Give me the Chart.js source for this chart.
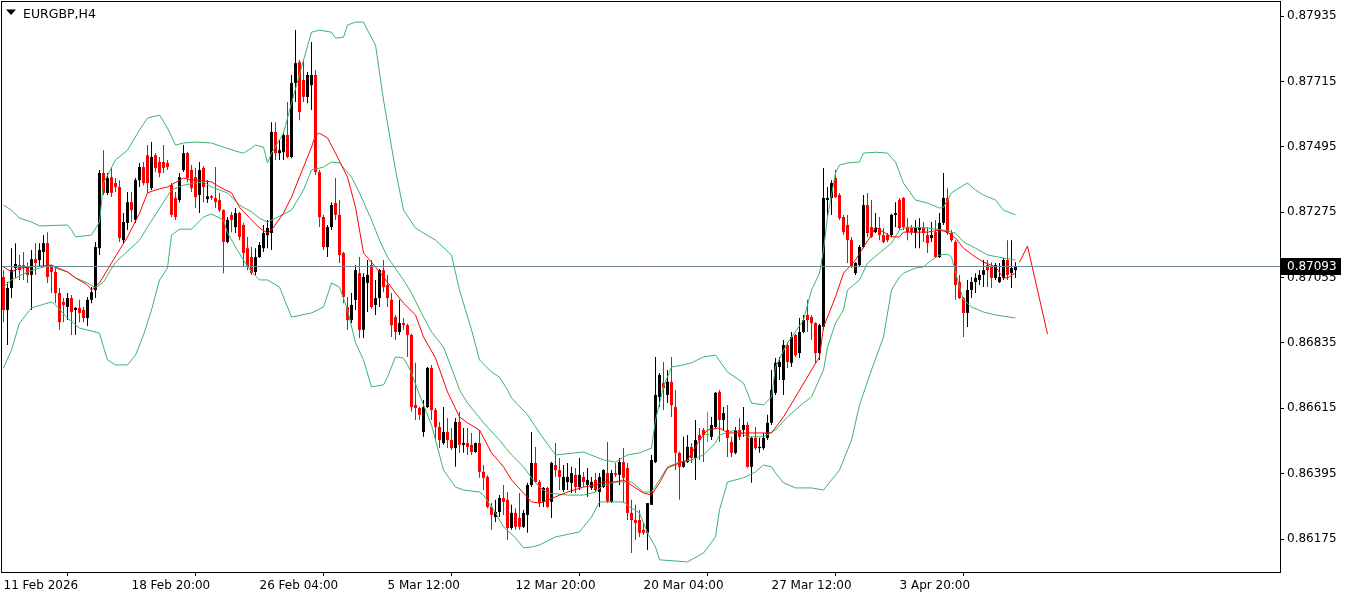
<!DOCTYPE html>
<html>
<head>
<meta charset="utf-8">
<title>EURGBP,H4</title>
<script src="https://cdn.jsdelivr.net/npm/chart.js@4.4.1/dist/chart.umd.min.js"></script>
<style>
  html, body { margin: 0; padding: 0; background: #fff; }
  #wrap { position: relative; width: 1351px; height: 599px; }
</style>
</head>
<body>
<div id="wrap"><canvas id="chart"></canvas></div>
<script>
// EURGBP H4 candles, bar 0 = 11 Feb 2026 12:00
const opens = [
  0.87057,0.86946,0.87020,0.87087,0.87097,0.87097,0.87091,0.87064,0.87117,0.87114,
  0.87141,0.87171,0.87091,0.87074,0.87003,0.86973,0.86956,0.86986,0.86946,0.86953,
  0.86946,0.86919,0.86980,0.87013,0.87154,0.87407,0.87340,0.87393,0.87373,0.87360,
  0.87181,0.87239,0.87309,0.87249,0.87383,0.87427,0.87467,0.87356,0.87467,0.87444,
  0.87444,0.87441,0.87366,0.87323,0.87316,0.87417,0.87474,0.87417,0.87393,0.87333,
  0.87424,0.87319,0.87329,0.87323,0.87316,0.87282,0.87175,0.87266,0.87225,0.87272,
  0.87232,0.87154,0.87124,0.87074,0.87124,0.87154,0.87198,0.87205,0.87545,0.87474,
  0.87477,0.87535,0.87461,0.87710,0.87780,0.87720,0.87663,0.87703,0.87737,0.87410,
  0.87259,0.87158,0.87225,0.87306,0.87266,0.87138,0.86956,0.86912,0.86980,0.87070,
  0.86879,0.87037,0.87097,0.86963,0.86986,0.87080,0.87030,0.86980,0.86922,0.86872,
  0.86902,0.86895,0.86862,0.86626,0.86616,0.86535,0.86619,0.86751,0.86609,0.86552,
  0.86498,0.86535,0.86508,0.86481,0.86569,0.86492,0.86498,0.86492,0.86468,0.86498,
  0.86401,0.86384,0.86283,0.86249,0.86266,0.86313,0.86307,0.86212,0.86263,0.86246,
  0.86216,0.86256,0.86357,0.86431,0.86367,0.86300,0.86347,0.86300,0.86424,0.86407,
  0.86340,0.86367,0.86364,0.86391,0.86350,0.86384,0.86357,0.86347,0.86374,0.86333,
  0.86350,0.86397,0.86300,0.86397,0.86391,0.86434,0.86414,0.86263,0.86239,0.86239,
  0.86206,0.86196,0.86290,0.86434,0.86653,0.86700,0.86660,0.86704,0.86619,0.86465,
  0.86418,0.86434,0.86485,0.86448,0.86525,0.86542,0.86525,0.86519,0.86552,0.86670,
  0.86576,0.86542,0.86502,0.86465,0.86542,0.86542,0.86559,0.86418,0.86515,0.86481,
  0.86481,0.86515,0.86566,0.86667,0.86754,0.86710,0.86828,0.86768,0.86862,0.86801,
  0.86872,0.86929,0.86922,0.86902,0.86801,0.86889,0.87316,0.87323,0.87390,0.87333,
  0.87259,0.87232,0.87181,0.87070,0.87097,0.87158,0.87299,0.87225,0.87208,0.87222,
  0.87198,0.87198,0.87198,0.87266,0.87316,0.87323,0.87225,0.87222,0.87205,0.87215,
  0.87225,0.87198,0.87188,0.87208,0.87124,0.87239,0.87323,0.87205,0.87175,0.87040,
  0.86986,0.86936,0.87013,0.87040,0.87047,0.87064,0.87097,0.87091,0.87054,0.87040,
  0.87054,0.87114,0.87070,0.87080
];
const highs = [
  0.87080,0.87040,0.87154,0.87171,0.87131,0.87141,0.87107,0.87148,0.87171,0.87171,
  0.87198,0.87208,0.87097,0.87091,0.87020,0.86986,0.87003,0.86996,0.86956,0.86980,
  0.86956,0.86990,0.87023,0.87175,0.87417,0.87484,0.87407,0.87427,0.87390,0.87383,
  0.87272,0.87343,0.87343,0.87390,0.87441,0.87444,0.87501,0.87511,0.87474,0.87461,
  0.87501,0.87451,0.87373,0.87343,0.87407,0.87501,0.87478,0.87434,0.87424,0.87444,
  0.87430,0.87383,0.87333,0.87427,0.87340,0.87285,0.87259,0.87276,0.87289,0.87276,
  0.87239,0.87192,0.87158,0.87154,0.87175,0.87232,0.87249,0.87578,0.87578,0.87518,
  0.87545,0.87646,0.87737,0.87888,0.87787,0.87787,0.87747,0.87848,0.87753,0.87417,
  0.87266,0.87232,0.87309,0.87390,0.87316,0.87141,0.86990,0.87003,0.87097,0.87124,
  0.87070,0.87114,0.87114,0.87047,0.87085,0.87114,0.87064,0.87003,0.86929,0.86980,
  0.86919,0.86900,0.86866,0.86768,0.86619,0.86643,0.86754,0.86761,0.86616,0.86569,
  0.86619,0.86582,0.86549,0.86582,0.86603,0.86549,0.86549,0.86532,0.86500,0.86542,
  0.86424,0.86390,0.86296,0.86307,0.86323,0.86357,0.86333,0.86290,0.86279,0.86330,
  0.86273,0.86364,0.86535,0.86485,0.86374,0.86350,0.86350,0.86435,0.86498,0.86448,
  0.86424,0.86431,0.86418,0.86414,0.86448,0.86401,0.86414,0.86384,0.86397,0.86397,
  0.86410,0.86502,0.86407,0.86431,0.86448,0.86481,0.86431,0.86307,0.86290,0.86273,
  0.86232,0.86296,0.86458,0.86788,0.86734,0.86771,0.86744,0.86788,0.86677,0.86470,
  0.86519,0.86525,0.86498,0.86576,0.86549,0.86549,0.86603,0.86586,0.86670,0.86677,
  0.86619,0.86626,0.86519,0.86552,0.86582,0.86619,0.86569,0.86519,0.86552,0.86515,
  0.86532,0.86593,0.86744,0.86784,0.86788,0.86845,0.86838,0.86872,0.86866,0.86919,
  0.86929,0.86980,0.86929,0.86905,0.86900,0.87424,0.87360,0.87383,0.87417,0.87340,
  0.87266,0.87266,0.87192,0.87107,0.87165,0.87333,0.87340,0.87316,0.87272,0.87259,
  0.87222,0.87205,0.87270,0.87309,0.87323,0.87326,0.87255,0.87232,0.87249,0.87255,
  0.87242,0.87225,0.87242,0.87249,0.87272,0.87407,0.87356,0.87215,0.87181,0.87064,
  0.86990,0.87047,0.87057,0.87070,0.87080,0.87114,0.87114,0.87107,0.87104,0.87104,
  0.87121,0.87181,0.87181,0.87107
];
const lows = [
  0.86905,0.86828,0.86986,0.87054,0.87047,0.87047,0.87037,0.86946,0.87064,0.87091,
  0.87091,0.87037,0.87003,0.86969,0.86879,0.86905,0.86912,0.86862,0.86862,0.86905,
  0.86905,0.86892,0.86969,0.86986,0.87131,0.87333,0.87333,0.87326,0.87343,0.87175,
  0.87171,0.87215,0.87242,0.87239,0.87360,0.87366,0.87340,0.87350,0.87410,0.87393,
  0.87407,0.87417,0.87259,0.87249,0.87309,0.87410,0.87377,0.87343,0.87289,0.87272,
  0.87309,0.87306,0.87316,0.87289,0.87276,0.87070,0.87171,0.87208,0.87205,0.87181,
  0.87091,0.87080,0.87064,0.87064,0.87121,0.87141,0.87154,0.87148,0.87451,0.87451,
  0.87451,0.87457,0.87457,0.87646,0.87585,0.87646,0.87642,0.87619,0.87400,0.87225,
  0.87148,0.87124,0.87215,0.87249,0.87104,0.86969,0.86879,0.86902,0.86946,0.86852,
  0.86852,0.86939,0.86950,0.86929,0.86956,0.87006,0.86956,0.86855,0.86845,0.86862,
  0.86879,0.86788,0.86603,0.86576,0.86576,0.86519,0.86616,0.86576,0.86508,0.86481,
  0.86492,0.86481,0.86475,0.86418,0.86465,0.86465,0.86458,0.86458,0.86465,0.86381,
  0.86340,0.86279,0.86206,0.86232,0.86249,0.86256,0.86172,0.86206,0.86206,0.86206,
  0.86212,0.86196,0.86350,0.86364,0.86283,0.86283,0.86280,0.86246,0.86384,0.86340,
  0.86333,0.86340,0.86330,0.86330,0.86340,0.86350,0.86317,0.86340,0.86333,0.86283,
  0.86347,0.86296,0.86296,0.86384,0.86357,0.86296,0.86239,0.86128,0.86172,0.86182,
  0.86189,0.86138,0.86290,0.86431,0.86619,0.86609,0.86633,0.86586,0.86407,0.86307,
  0.86415,0.86431,0.86431,0.86374,0.86441,0.86434,0.86502,0.86508,0.86549,0.86502,
  0.86542,0.86451,0.86451,0.86460,0.86508,0.86519,0.86415,0.86364,0.86475,0.86465,
  0.86475,0.86508,0.86559,0.86660,0.86710,0.86660,0.86751,0.86754,0.86788,0.86784,
  0.86868,0.86872,0.86845,0.86768,0.86778,0.86879,0.87259,0.87266,0.87323,0.87249,
  0.87198,0.87104,0.87087,0.87064,0.87091,0.87154,0.87192,0.87188,0.87205,0.87181,
  0.87171,0.87175,0.87192,0.87225,0.87215,0.87215,0.87181,0.87198,0.87154,0.87154,
  0.87175,0.87138,0.87175,0.87121,0.87121,0.87232,0.87198,0.87175,0.86980,0.86983,
  0.86855,0.86889,0.86986,0.87003,0.87030,0.87023,0.87023,0.87020,0.87047,0.87037,
  0.87047,0.87047,0.87020,0.87054
];
const closes = [
  0.86946,0.87020,0.87080,0.87101,0.87080,0.87087,0.87064,0.87117,0.87104,0.87148,
  0.87171,0.87057,0.87074,0.87003,0.86905,0.86963,0.86986,0.86939,0.86953,0.86936,
  0.86919,0.86980,0.87006,0.87158,0.87407,0.87340,0.87390,0.87340,0.87360,0.87188,
  0.87242,0.87309,0.87282,0.87383,0.87427,0.87373,0.87373,0.87461,0.87424,0.87407,
  0.87424,0.87427,0.87266,0.87259,0.87393,0.87474,0.87390,0.87356,0.87326,0.87417,
  0.87360,0.87329,0.87323,0.87309,0.87282,0.87175,0.87249,0.87249,0.87272,0.87192,
  0.87138,0.87091,0.87070,0.87124,0.87165,0.87205,0.87222,0.87545,0.87474,0.87484,
  0.87535,0.87461,0.87710,0.87777,0.87612,0.87663,0.87737,0.87737,0.87410,0.87259,
  0.87158,0.87225,0.87299,0.87266,0.87131,0.86990,0.86912,0.86963,0.87080,0.86879,
  0.87057,0.87064,0.86956,0.86986,0.87080,0.87023,0.86986,0.86895,0.86872,0.86902,
  0.86895,0.86862,0.86619,0.86616,0.86593,0.86619,0.86751,0.86609,0.86552,0.86508,
  0.86535,0.86508,0.86481,0.86569,0.86492,0.86498,0.86485,0.86468,0.86498,0.86401,
  0.86381,0.86283,0.86256,0.86266,0.86313,0.86300,0.86212,0.86263,0.86216,0.86216,
  0.86263,0.86357,0.86431,0.86367,0.86296,0.86347,0.86283,0.86431,0.86407,0.86384,
  0.86384,0.86384,0.86397,0.86350,0.86391,0.86367,0.86374,0.86367,0.86340,0.86384,
  0.86407,0.86300,0.86397,0.86391,0.86434,0.86381,0.86263,0.86239,0.86229,0.86196,
  0.86196,0.86296,0.86441,0.86660,0.86727,0.86683,0.86704,0.86626,0.86465,0.86418,
  0.86434,0.86485,0.86448,0.86508,0.86508,0.86525,0.86525,0.86559,0.86667,0.86576,
  0.86599,0.86515,0.86465,0.86542,0.86519,0.86559,0.86418,0.86515,0.86481,0.86485,
  0.86515,0.86566,0.86677,0.86768,0.86771,0.86828,0.86771,0.86855,0.86794,0.86872,
  0.86912,0.86912,0.86902,0.86801,0.86895,0.87323,0.87323,0.87373,0.87326,0.87255,
  0.87208,0.87181,0.87091,0.87104,0.87158,0.87299,0.87205,0.87192,0.87222,0.87198,
  0.87175,0.87181,0.87266,0.87272,0.87222,0.87225,0.87208,0.87208,0.87222,0.87225,
  0.87205,0.87171,0.87198,0.87124,0.87239,0.87323,0.87205,0.87181,0.87030,0.86986,
  0.86936,0.87013,0.87040,0.87054,0.87064,0.87080,0.87080,0.87054,0.87097,0.87057,
  0.87114,0.87064,0.87087,0.87093
];

// indicator lines: [bar, price]
const upperBand = [
  [0,0.87299],[2,0.87282],[4,0.87255],[7,0.87242],[9,0.87229],[16,0.87232],[17,0.87215],[18,0.87192],
  [22,0.87198],[24,0.87242],[25,0.87373],[28,0.87451],[31,0.87484],[34,0.87552],[36,0.87592],[39,0.87602],
  [41,0.87558],[43,0.87501],[45,0.87508],[48,0.87511],[52,0.87508],[55,0.87494],[59,0.87477],[60,0.87474],
  [62,0.87491],[63,0.87501],[65,0.87494],[66,0.87441],[67,0.87474],[70,0.87541],[72,0.87642],[75,0.87787],
  [77,0.87881],[79,0.87888],[82,0.87881],[83,0.87861],[85,0.87864],[86,0.87905],[88,0.87915],[90,0.87915],
  [91,0.87888],[93,0.87838],[95,0.87653],[98,0.87417],[100,0.87282],[103,0.87222],[105,0.87205],[108,0.87181],
  [112,0.87131],[114,0.87013],[117,0.86879],[119,0.86778],[122,0.86737],[124,0.86720],[126,0.86677],[127,0.86650],
  [131,0.86593],[134,0.86532],[138,0.86458],[143,0.86465],[145,0.86468],[150,0.86441],[153,0.86434],[156,0.86458],
  [159,0.86465],[162,0.86481],[163,0.86576],[165,0.86687],[167,0.86754],[170,0.86761],[172,0.86768],[175,0.86788],
  [178,0.86794],[181,0.86737],[185,0.86700],[187,0.86633],[190,0.86626],[192,0.86653],[193,0.86754],[196,0.86835],
  [200,0.86912],[202,0.87013],[204,0.87070],[205,0.87148],[206,0.87259],[208,0.87407],[209,0.87434],[211,0.87441],
  [214,0.87444],[215,0.87474],[218,0.87477],[221,0.87474],[223,0.87444],[225,0.87373],[228,0.87316],[231,0.87306],
  [234,0.87289],[235,0.87292],[237,0.87340],[240,0.87366],[241,0.87373],[243,0.87350],[245,0.87333],[248,0.87316],
  [250,0.87282],[253,0.87266]
];
const middleBand = [
  [0,0.87023],[2,0.87047],[6,0.87074],[9,0.87087],[12,0.87097],[13,0.87087],[16,0.87074],[18,0.87054],
  [21,0.87037],[23,0.87020],[25,0.87040],[28,0.87107],[30,0.87131],[34,0.87181],[36,0.87225],[40,0.87309],
  [42,0.87350],[45,0.87366],[48,0.87373],[50,0.87377],[52,0.87360],[56,0.87340],[59,0.87299],[62,0.87276],
  [64,0.87255],[66,0.87242],[68,0.87255],[72,0.87282],[75,0.87350],[77,0.87417],[80,0.87427],[82,0.87444],
  [84,0.87441],[87,0.87393],[89,0.87340],[92,0.87249],[94,0.87181],[96,0.87124],[100,0.87047],[102,0.87003],
  [105,0.86922],[107,0.86872],[110,0.86821],[112,0.86751],[114,0.86677],[116,0.86633],[120,0.86566],[124,0.86508],
  [127,0.86458],[130,0.86418],[132,0.86381],[134,0.86350],[136,0.86330],[141,0.86323],[145,0.86323],[148,0.86333],
  [150,0.86357],[153,0.86367],[157,0.86367],[160,0.86333],[162,0.86333],[164,0.86374],[166,0.86418],[169,0.86434],
  [172,0.86441],[175,0.86458],[178,0.86498],[179,0.86525],[183,0.86542],[186,0.86519],[190,0.86519],[193,0.86542],
  [196,0.86586],[200,0.86633],[202,0.86653],[205,0.86744],[206,0.86821],[208,0.86902],[210,0.86946],[211,0.87013],
  [214,0.87047],[216,0.87104],[219,0.87138],[222,0.87171],[224,0.87215],[226,0.87225],[231,0.87222],[235,0.87215],
  [238,0.87205],[240,0.87175],[243,0.87154],[246,0.87131],[250,0.87121],[253,0.87114]
];
const lowerBand = [
  [0,0.86751],[2,0.86811],[4,0.86902],[7,0.86953],[12,0.86973],[13,0.86963],[16,0.86919],[19,0.86885],
  [22,0.86875],[24,0.86868],[25,0.86821],[26,0.86778],[28,0.86761],[31,0.86761],[33,0.86794],[35,0.86862],
  [37,0.86946],[39,0.87047],[41,0.87087],[42,0.87198],[44,0.87218],[47,0.87218],[50,0.87259],[52,0.87269],
  [55,0.87249],[56,0.87205],[58,0.87158],[60,0.87114],[62,0.87074],[64,0.87047],[66,0.87047],[69,0.87023],
  [72,0.86922],[77,0.86936],[80,0.86956],[82,0.87037],[84,0.87023],[86,0.86946],[88,0.86835],[90,0.86778],
  [92,0.86687],[95,0.86694],[96,0.86720],[98,0.86788],[100,0.86784],[101,0.86761],[102,0.86734],[104,0.86660],
  [107,0.86559],[109,0.86458],[110,0.86407],[113,0.86350],[115,0.86340],[119,0.86333],[120,0.86323],[123,0.86263],
  [125,0.86216],[128,0.86179],[130,0.86145],[132,0.86148],[134,0.86155],[138,0.86182],[144,0.86199],[145,0.86216],
  [147,0.86249],[149,0.86300],[151,0.86300],[155,0.86300],[157,0.86279],[159,0.86263],[161,0.86196],[163,0.86148],
  [164,0.86105],[171,0.86098],[175,0.86128],[178,0.86182],[179,0.86273],[181,0.86367],[185,0.86381],[188,0.86401],
  [190,0.86424],[192,0.86418],[193,0.86397],[195,0.86364],[198,0.86347],[202,0.86347],[205,0.86340],[209,0.86407],
  [212,0.86508],[214,0.86626],[217,0.86744],[220,0.86855],[222,0.87013],[224,0.87057],[225,0.87070],[228,0.87087],
  [230,0.87091],[232,0.87114],[234,0.87131],[236,0.87134],[237,0.87124],[239,0.87023],[240,0.86980],[242,0.86956],
  [245,0.86939],[248,0.86929],[253,0.86919]
];
const maLine = [
  [0,0.87091],[2,0.87074],[4,0.87087],[7,0.87091],[12,0.87097],[13,0.87091],[16,0.87074],[18,0.87054],
  [21,0.87030],[22,0.87013],[24,0.87037],[27,0.87104],[31,0.87192],[34,0.87272],[36,0.87340],[38,0.87350],
  [41,0.87360],[45,0.87390],[47,0.87383],[49,0.87383],[52,0.87377],[54,0.87360],[57,0.87340],[59,0.87292],
  [62,0.87249],[64,0.87222],[66,0.87205],[67,0.87215],[70,0.87272],[72,0.87326],[75,0.87427],[77,0.87494],
  [78,0.87535],[79,0.87541],[81,0.87525],[83,0.87474],[86,0.87393],[88,0.87292],[89,0.87215],[90,0.87138],
  [93,0.87091],[95,0.87057],[98,0.87003],[100,0.86969],[103,0.86929],[105,0.86855],[108,0.86784],[111,0.86670],
  [114,0.86586],[116,0.86566],[119,0.86542],[122,0.86465],[125,0.86418],[127,0.86374],[130,0.86330],[132,0.86300],
  [134,0.86296],[135,0.86300],[138,0.86317],[141,0.86333],[145,0.86350],[148,0.86357],[150,0.86367],[153,0.86367],
  [155,0.86374],[158,0.86347],[160,0.86330],[162,0.86323],[164,0.86364],[166,0.86414],[169,0.86431],[171,0.86441],
  [174,0.86508],[176,0.86542],[179,0.86549],[181,0.86532],[186,0.86532],[192,0.86532],[195,0.86586],[198,0.86653],
  [202,0.86744],[204,0.86788],[205,0.86889],[208,0.86990],[210,0.87070],[213,0.87114],[215,0.87158],[217,0.87198],
  [218,0.87225],[220,0.87208],[222,0.87192],[224,0.87192],[225,0.87208],[231,0.87208],[234,0.87215],[236,0.87208],
  [238,0.87188],[240,0.87154],[243,0.87124],[245,0.87107],[248,0.87091],[250,0.87054],[251,0.87054],[253,0.87070]
];
const forecastLine = [[254,0.87107],[256,0.87161],[261,0.86865]];

const priceTicks = [0.86175,0.86395,0.86615,0.86835,0.87055,0.87275,0.87495,0.87715,0.87935];
const dateBars = [0,32,64,96,128,160,192,224];
const dateLabels = ['11 Feb 2026','18 Feb 20:00','26 Feb 04:00','5 Mar 12:00','12 Mar 20:00','20 Mar 04:00','27 Mar 12:00','3 Apr 20:00'];
const symbolTitle = 'EURGBP,H4';
const bidPrice = closes[closes.length - 1];

const FONT_FAMILY = '"DejaVu Sans", sans-serif';
const BAND_GREEN = '#3cb371';

function candleColor(i) {
  if (closes[i] > opens[i]) return '#000000';
  if (closes[i] < opens[i]) return '#ff0000';
  return '#00e000';
}
const colors = opens.map((o, i) => candleColor(i));

function toPoints(pairs) {
  return pairs.map(p => ({x: p[0], y: p[1]}));
}

function lineSet(pairs, color, order) {
  return {
    type: 'line',
    data: toPoints(pairs),
    borderColor: color,
    borderWidth: 1,
    pointRadius: 0,
    tension: 0,
    fill: false,
    order: order
  };
}

// no auto padding from the tick labels, the frame has to sit at the window edge
function noPadding(scale) {
  scale.paddingTop = 0;
  scale.paddingBottom = 0;
  scale.paddingLeft = 0;
  scale.paddingRight = 0;
}

// frame, title, bid line and bid label
const mtDecor = {
  id: 'mtDecor',
  afterDatasetsDraw(chart) {
    const ctx = chart.ctx;
    const area = chart.chartArea;
    const y = Math.round(chart.scales.y.getPixelForValue(bidPrice)) + 0.5;
    ctx.save();
    ctx.strokeStyle = '#778899';
    ctx.lineWidth = 1;
    ctx.beginPath();
    ctx.moveTo(area.left, y);
    ctx.lineTo(area.right, y);
    ctx.stroke();
    ctx.restore();
  },
  afterDraw(chart) {
    const ctx = chart.ctx;
    const area = chart.chartArea;
    ctx.save();
    ctx.strokeStyle = '#000';
    ctx.lineWidth = 1;
    ctx.strokeRect(area.left + 0.5, area.top + 0.5, area.right - area.left, area.bottom - area.top);

    // symbol title
    ctx.fillStyle = '#000';
    ctx.beginPath();
    ctx.moveTo(6, 9.5);
    ctx.lineTo(16, 9.5);
    ctx.lineTo(11, 15);
    ctx.closePath();
    ctx.fill();
    ctx.font = '12.5px ' + FONT_FAMILY;
    ctx.textBaseline = 'middle';
    ctx.textAlign = 'left';
    ctx.fillText(symbolTitle, 23, 14.5);

    // bid label
    ctx.font = '12px ' + FONT_FAMILY;
    const y = Math.round(chart.scales.y.getPixelForValue(bidPrice));
    ctx.fillStyle = '#000';
    ctx.fillRect(area.right + 1, y - 8, 60, 17);
    ctx.fillStyle = '#fff';
    ctx.fillText(bidPrice.toFixed(5), area.right + 7, y + 1);
    ctx.restore();
  }
};

new Chart(document.getElementById('chart').getContext('2d'), {
  type: 'bar',
  data: {
    datasets: [
      lineSet(forecastLine, '#ff0000', 0),
      lineSet(maLine, '#ff0000', 0),
      lineSet(upperBand, BAND_GREEN, 1),
      lineSet(middleBand, BAND_GREEN, 1),
      lineSet(lowerBand, BAND_GREEN, 1),
      {
        type: 'bar',
        data: opens.map((o, i) => ({x: i, y: [o, closes[i]]})),
        backgroundColor: colors,
        borderWidth: 0,
        barThickness: 3,
        grouped: false,
        minBarLength: 1,
        inflateAmount: 0,
        order: 2
      },
      {
        type: 'bar',
        data: lows.map((l, i) => ({x: i, y: [l, highs[i]]})),
        backgroundColor: colors,
        borderWidth: 0,
        barThickness: 1,
        grouped: false,
        minBarLength: 1,
        inflateAmount: 0,
        order: 3
      }
    ]
  },
  options: {
    responsive: true,
    maintainAspectRatio: false,
    animation: false,
    events: [],
    layout: { padding: { left: 1, top: 1, right: 0, bottom: 0 } },
    plugins: {
      legend: { display: false },
      tooltip: { enabled: false },
      title: { display: false }
    },
    scales: {
      x: {
        type: 'linear',
        min: -0.625,
        max: 319.125,
        offset: false,
        afterBuildTicks: scale => { scale.ticks = dateBars.map(v => ({value: v})); },
        afterFit: scale => { scale.height = 27; noPadding(scale); },
        ticks: {
          autoSkip: false,
          maxRotation: 0,
          align: 'start',
          padding: 3,
          color: '#000',
          font: { family: FONT_FAMILY, size: 12 },
          callback: v => dateLabels[dateBars.indexOf(v)]
        },
        grid: { display: true, drawOnChartArea: false, drawTicks: true, tickLength: 4, color: '#000' },
        border: { display: false }
      },
      y: {
        type: 'linear',
        position: 'right',
        min: 0.86064,
        max: 0.87986,
        afterBuildTicks: scale => { scale.ticks = priceTicks.map(v => ({value: v})); },
        afterFit: scale => { scale.width = 71; noPadding(scale); },
        ticks: {
          padding: 3,
          color: '#000',
          font: { family: FONT_FAMILY, size: 12 },
          callback: v => v.toFixed(5)
        },
        grid: { display: true, drawOnChartArea: false, drawTicks: true, tickLength: 4, color: '#000' },
        border: { display: false }
      }
    }
  },
  plugins: [mtDecor]
});
</script>
</body>
</html>
